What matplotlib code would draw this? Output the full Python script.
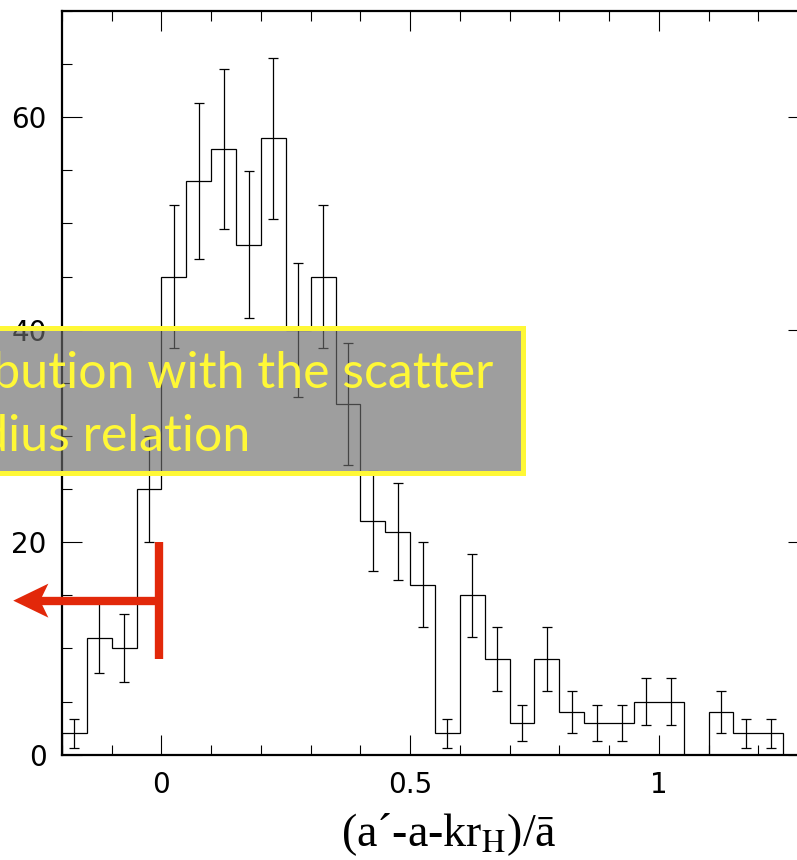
import numpy as np
import matplotlib
matplotlib.use("Agg")
import matplotlib.pyplot as plt
from matplotlib.patches import Rectangle, Polygon
from matplotlib.ticker import MultipleLocator

# counts per 0.05-wide bin, starting at -0.2
bin_start = -0.2
bin_width = 0.05
counts = [2, 11, 10, 25, 45, 54, 57, 48, 58, 40,
          45, 33, 22, 21, 16, 2, 15, 9, 3, 9,
          4, 3, 3, 5, 5, 0, 4, 2, 2, 0]
# poisson errors as plotted
errors = [1.4, 3.3, 3.2, 5.0, 6.7, 7.35, 7.55, 6.9, 7.6, 6.3,
          6.7, 5.75, 4.7, 4.6, 4.0, 1.4, 3.9, 3.0, 1.7, 3.0,
          2.0, 1.7, 1.7, 2.2, 2.2, 0.0, 2.0, 1.4, 1.4, 0.0]

x_ticks = [0, 0.5, 1]
x_ticklabels = ["0", "0.5", "1"]
y_ticks = [0, 20, 40, 60]

box_lines = ["distribution with the scatter", "radius relation"]

# marker for the zero point (T bar plus arrow pointing left)
bar_x = -0.005
bar_lo, bar_hi = 9.0, 20.0
arrow_y = 14.5
arrow_tip = -0.298
red = "#e2280a"

plt.rcParams["mathtext.fontset"] = "stix"

counts = np.array(counts, dtype=float)
errors = np.array(errors)
edges = bin_start + bin_width * np.arange(len(counts) + 1)
centers = 0.5 * (edges[:-1] + edges[1:])

fig = plt.figure(figsize=(7.97, 8.6), dpi=100)
ax = fig.add_axes([62 / 797, 1 - 754.7 / 860, 746 / 797, 743.7 / 860])

ax.stairs(counts, edges, baseline=0, color="black", lw=0.9)
has = counts > 0
ax.errorbar(centers[has], counts[has], yerr=errors[has], fmt="none",
            ecolor="black", elinewidth=0.9, capsize=3.6, capthick=0.9)

ax.set_xlim(-0.2, 1.3)
ax.set_ylim(0, 70)
ax.set_xticks(x_ticks)
ax.set_xticklabels(x_ticklabels)
ax.set_yticks(y_ticks)
ax.xaxis.set_minor_locator(MultipleLocator(0.1))
ax.yaxis.set_minor_locator(MultipleLocator(5))
ax.tick_params(which="both", direction="in", top=True, right=True,
               width=0.8, labelsize=20)
ax.tick_params(which="major", length=14.4)
ax.tick_params(which="minor", length=7.2)
ax.tick_params(axis="x", pad=12)
ax.tick_params(axis="y", pad=11)
for sp in ax.spines.values():
    sp.set_linewidth(1.6)

ax.set_xlabel("(a\u00b4-a-kr$_\\mathrm{H}$)/\u0101", family="Liberation Serif",
              fontsize=33)
ax.xaxis.set_label_coords(0.519, -0.076)

# red zero marker
ax.plot([bar_x, bar_x], [bar_lo, bar_hi], color=red, lw=6, solid_capstyle="butt",
        clip_on=False, zorder=4)
head_len, head_half, notch = 0.0706, 1.6, 0.054
ax.plot([bar_x, arrow_tip + notch], [arrow_y, arrow_y], color=red, lw=6,
        solid_capstyle="butt", clip_on=False, zorder=4)
head = Polygon([(arrow_tip, arrow_y), (arrow_tip + head_len, arrow_y + head_half),
                (arrow_tip + notch, arrow_y), (arrow_tip + head_len, arrow_y - head_half)],
               closed=True, facecolor=red, edgecolor="none", clip_on=False, zorder=4)
ax.add_patch(head)

# translucent caption box
box = Rectangle((-0.05, 1 - 472.5 / 860), 0.05 + 522.5 / 797, (472.5 - 327.5) / 860,
                transform=fig.transFigure, facecolor=(0.42, 0.42, 0.42), alpha=0.65,
                edgecolor="none", zorder=5)
fig.add_artist(box)
frame = Rectangle((-0.05, 1 - 472.5 / 860), 0.05 + 522.5 / 797, (472.5 - 327.5) / 860,
                  transform=fig.transFigure, facecolor="none", edgecolor="#fff836",
                  lw=3.6, zorder=6)
fig.add_artist(frame)
fig.text(493 / 797, 1 - 388 / 860, box_lines[0], ha="right", va="baseline",
         color="#fff836", family="Lato", fontsize=36, zorder=7)
fig.text(250 / 797, 1 - 451 / 860, box_lines[1], ha="right", va="baseline",
         color="#fff836", family="Lato", fontsize=36, zorder=7)

fig.savefig("out.png", dpi=100)
